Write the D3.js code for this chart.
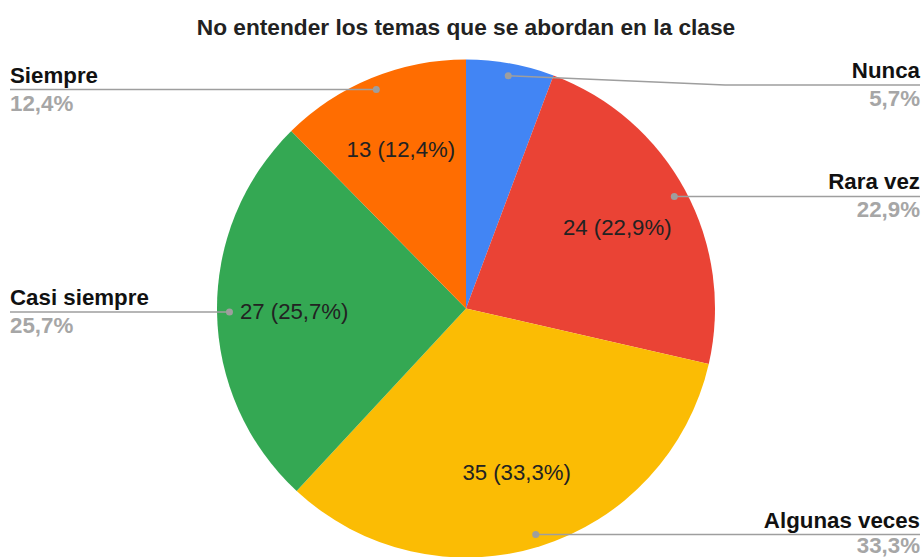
<!DOCTYPE html>
<html>
<head>
<meta charset="utf-8">
<script src="https://cdn.jsdelivr.net/npm/d3@7"></script>
<style>
  body { margin: 0; background: #fff; }
  text { font-family: Arial, "Liberation Sans", sans-serif; }
</style>
</head>
<body>
<div id="chart"></div>
<script>
/* Pie: No entender los temas que se abordan en la clase */

const title = "No entender los temas que se abordan en la clase";
const categories = ["Nunca", "Rara vez", "Algunas veces", "Casi siempre", "Siempre"];
const counts = [6, 24, 35, 27, 13];

const width = 923,
    height = 557,
    cx = 466, cy = 308.5,
    r = 249;

const locale = d3.formatLocale({decimal: ",", thousands: ".", grouping: [3], currency: ["", "€"]});
const pct = locale.format(".1%");
const total = d3.sum(counts);

const data = categories.map((c, i) => ({name: c, value: counts[i]}));

const color = d3.scaleOrdinal()
    .domain(categories)
    .range(["#4285f4", "#ea4335", "#fbbc04", "#34a853", "#ff6d01"]);

let svg = d3.select("#chart")
    .append("svg")
    .attr("width", width)
    .attr("height", height);

svg.append("text")
    .attr("x", cx)
    .attr("y", 35)
    .attr("text-anchor", "middle")
    .attr("font-size", 22.7)
    .attr("font-weight", "bold")
    .attr("fill", "#222")
    .text(title);

const pie = d3.pie().sort(null).value(d => d.value);
const arcs = pie(data);

const arc = d3.arc().innerRadius(0).outerRadius(r);
const labelArc = d3.arc().innerRadius(r * 0.69).outerRadius(r * 0.69);
const dotArc = d3.arc().innerRadius(r * 0.95).outerRadius(r * 0.95);

const g = svg.append("g").attr("transform", `translate(${cx},${cy})`);

g.selectAll("path.slice")
    .data(arcs)
    .join("path")
    .attr("class", "slice")
    .attr("d", arc)
    .attr("fill", d => color(d.data.name));

// values inside the big slices
g.selectAll("text.inner")
    .data(arcs.filter(d => d.value / total > 0.1))
    .join("text")
    .attr("class", "inner")
    .attr("transform", d => `translate(${labelArc.centroid(d)})`)
    .attr("text-anchor", "middle")
    .attr("dominant-baseline", "central")
    .attr("font-size", 22.2)
    .attr("fill", "#222")
    .text(d => `${d.value} (${pct(d.value / total)})`);

// leader lines + outside labels
const minLineY = 85 - cy;
const maxPctY = height - 4 - cy;
const out = svg.append("g").attr("transform", `translate(${cx},${cy})`);

arcs.forEach(d => {
    const [x0, y0] = dotArc.centroid(d);
    const right = (d.startAngle + d.endAngle) / 2 < Math.PI;
    const lineY = Math.max(y0, minLineY);
    const edge = right ? width - 3 - cx : 10 - cx;
    const bend = right ? r + 10 : -r - 10;

    out.append("path")
        .attr("d", d3.line()([[x0, y0], [bend, lineY], [edge, lineY]]))
        .attr("fill", "none")
        .attr("stroke", "#9e9e9e")
        .attr("stroke-width", 1.5);

    out.append("circle")
        .attr("cx", x0)
        .attr("cy", y0)
        .attr("r", 3.5)
        .attr("fill", "#9e9e9e");

    out.append("text")
        .attr("x", edge)
        .attr("y", lineY - 7)
        .attr("text-anchor", right ? "end" : "start")
        .attr("font-size", 22.3)
        .attr("font-weight", "bold")
        .attr("fill", "#111")
        .text(d.data.name);

    out.append("text")
        .attr("x", edge)
        .attr("y", Math.min(lineY + 21, maxPctY))
        .attr("text-anchor", right ? "end" : "start")
        .attr("font-size", 22.3)
        .attr("font-weight", "bold")
        .attr("fill", "#a6a6a6")
        .text(pct(d.value / total));
});
</script>
</body>
</html>
